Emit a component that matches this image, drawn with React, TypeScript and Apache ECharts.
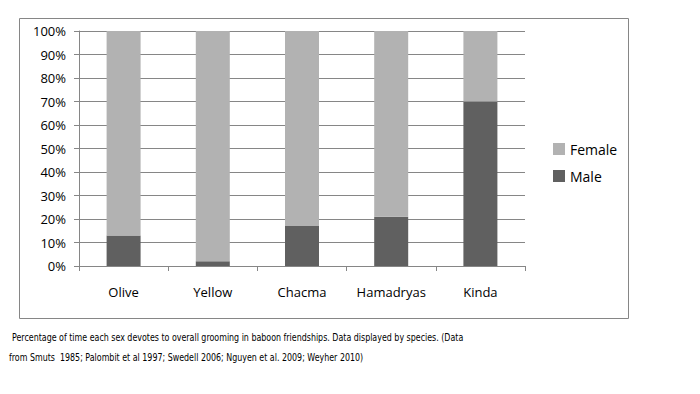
import React, { useEffect, useRef } from "react";
import * as echarts from "echarts";

const categories = ["Olive", "Yellow", "Chacma", "Hamadryas", "Kinda"];
const maleValues = [13, 2, 17, 21, 70];
const femaleValues = [87, 98, 83, 79, 30];
const seriesNames = ["Female", "Male"];
const captionLines = [
  "Percentage of time each sex devotes to overall grooming in baboon friendships. Data displayed by species. (Data",
  "from Smuts  1985; Palombit et al 1997; Swedell 2006; Nguyen et al. 2009; Weyher 2010)",
];

const FONT = "'DejaVu Sans Condensed', 'Liberation Sans', sans-serif";
const FONT2 = "'Open Sans', 'Liberation Sans', sans-serif";

export default function App() {
  const ref = useRef<HTMLDivElement>(null);
  useEffect(() => {
    if (!ref.current) return;
    const chart = echarts.init(ref.current, undefined, { renderer: "svg" });
    chart.setOption({
      animation: false,
      backgroundColor: "#ffffff",
      grid: { left: 79, right: 175, top: 31, bottom: 128 },
      legend: {
        orient: "vertical",
        left: 548,
        top: 137,
        itemWidth: 12,
        itemHeight: 12,
        itemGap: 13,
        icon: "rect",
        data: seriesNames,
        textStyle: { fontFamily: FONT2, fontSize: 14, color: "#000" },
      },
      xAxis: {
        type: "category",
        data: categories,
        axisLine: { lineStyle: { color: "#868686" } },
        axisTick: { show: true, length: 5, lineStyle: { color: "#868686" } },
        axisLabel: { color: "#000", fontFamily: FONT2, fontSize: 13, margin: 19, interval: 0 },
      },
      yAxis: {
        type: "value",
        min: 0,
        max: 100,
        interval: 10,
        axisLine: { show: true, lineStyle: { color: "#868686" } },
        axisTick: { show: true, length: 5, lineStyle: { color: "#868686" } },
        splitLine: { lineStyle: { color: "#868686" } },
        axisLabel: { color: "#000", fontFamily: FONT2, fontSize: 13, margin: 13, formatter: "{value}%" },
      },
      series: [
        {
          name: "Male",
          type: "bar",
          stack: "total",
          data: maleValues,
          barWidth: 34,
          itemStyle: { color: "#606060" },
        },
        {
          name: "Female",
          type: "bar",
          stack: "total",
          data: femaleValues,
          barWidth: 34,
          itemStyle: { color: "#b2b2b2" },
        },
      ],
      graphic: [
        {
          type: "rect",
          shape: { x: 19.5, y: 18.5, width: 609, height: 300 },
          style: { fill: "none", stroke: "#868686", lineWidth: 1 },
          silent: true,
        },
        {
          type: "text",
          x: 12,
          y: 337,
          scaleX: 0.84,
          style: {
            text: captionLines[0],
            font: `10.5px ${FONT}`,
            fill: "#000",
            verticalAlign: "middle",
          },
        },
        {
          type: "text",
          x: 9,
          y: 357,
          scaleX: 0.84,
          style: {
            text: captionLines[1],
            font: `10.5px ${FONT}`,
            fill: "#000",
            verticalAlign: "middle",
          },
        },
      ],
    });
    return () => chart.dispose();
  }, []);
  return (
    <div
      ref={ref}
      style={{ position: "fixed", left: 0, top: 0, width: 700, height: 394, background: "#fff" }}
    />
  );
}
